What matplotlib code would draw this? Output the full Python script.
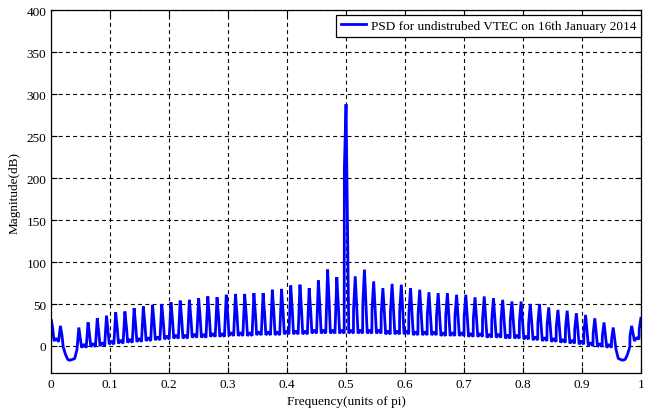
import numpy as np
import matplotlib
matplotlib.use("Agg")
import matplotlib.pyplot as plt

plt.rcParams['font.family'] = ['Liberation Serif', 'DejaVu Serif']

# PSD comb: one spike per bin k/64 (k = 0..64)
n_bins = 64
peak_db = [32, 24, -17, 22, 28, 33, 36, 40, 41, 45,
           47, 49, 50, 52, 54, 55, 57, 59, 58, 61,
           62, 62, 63, 63, 67, 68, 72, 73, 69, 78,
           91, 82, 288, 83, 91, 77, 69, 74, 73, 69,
           67, 64, 63, 63, 61, 61, 58, 59, 57, 55,
           53, 53, 50, 50, 46, 43, 42, 39, 37, 33,
           28, 22, -17, 24, 33]
shoulder_db = [20, 12, np.nan, 8, 12, 15, 17, 20, 21, 23,
               25, 26, 27, 29, 30, 31, 32, 33, 33, 35,
               35, 35, 36, 36, 38, 39, 40, 41, 39, 43,
               49, 45, 212, 45, 49, 43, 39, 41, 41, 39,
               38, 37, 36, 36, 35, 35, 33, 33, 32, 31,
               30, 29, 27, 27, 25, 23, 21, 20, 17, 15,
               12, 8, np.nan, 12, 20]

# floor between neighbouring spikes (64 gaps)
trough_after = [6, -1, -16, -2, -1, 0, 2, 3, 4, 5,
                6, 7, 8, 9, 9, 10, 10, 11, 11, 12,
                12, 12, 13, 13, 13, 14, 14, 14, 15, 15,
                15, 15, 15, 15, 15, 15, 14, 14, 14, 13,
                13, 13, 12, 12, 12, 11, 11, 10, 10, 9,
                9, 8, 7, 6, 5, 4, 3, 2, 0, -1,
                -2, -4, -16, 6]
hump = [9, -10, -15, 2, 3, 4, 6, 7, 8, 9,
        10, 11, 12, 13, 13, 14, 14, 15, 15, 16,
        16, 16, 17, 17, 17, 18, 18, 18, 19, 19,
        19, 19, 19, 19, 19, 19, 18, 18, 18, 17,
        17, 17, 16, 16, 16, 15, 15, 14, 14, 13,
        13, 12, 11, 10, 9, 8, 7, 6, 4, 3,
        2, -15, -10, 10]
trough_before = [5, -16, -4, -2, -1, 0, 2, 3, 4, 5,
                 6, 7, 8, 9, 9, 10, 10, 11, 11, 12,
                 12, 12, 13, 13, 13, 14, 14, 14, 15, 15,
                 15, 15, 15, 15, 15, 15, 14, 14, 14, 13,
                 13, 13, 12, 12, 12, 11, 11, 10, 10, 9,
                 9, 8, 7, 6, 5, 4, 3, 2, 0, -1,
                 -2, -16, -1, 8]
start_db = 14

legend_text = 'PSD for undistrubed VTEC on 16th January 2014'

# build the trace
bins = np.arange(n_bins + 1) / n_bins
step = 1.0 / n_bins
fx, fy = [bins[0] - 0.2 * step], [start_db]
for k in range(n_bins + 1):
    xk = bins[k]
    side = 1 if k < n_bins // 2 else -1
    if np.isnan(shoulder_db[k]):
        fx.append(xk); fy.append(peak_db[k])
    elif side > 0:
        fx += [xk, xk + 0.0028]
        fy += [peak_db[k], shoulder_db[k]]
    else:
        fx += [xk - 0.0028, xk]
        fy += [shoulder_db[k], peak_db[k]]
    if k < n_bins:
        fx += [xk + 0.3 * step, xk + 0.55 * step, xk + 0.8 * step]
        fy += [trough_after[k], hump[k], trough_before[k]]

fig = plt.figure(figsize=(6.48, 4.14), dpi=100)
ax = fig.add_axes([0.079, 0.097, 0.910, 0.876])

ax.plot(fx, fy, color='#0000ff', linewidth=2.0, label=legend_text,
        solid_joinstyle='bevel')

ax.set_xlim(0, 1)
ax.set_ylim(-32, 400)
ax.set_xticks(np.arange(0, 1.01, 0.1))
ax.set_xticklabels(['0', '0.1', '0.2', '0.3', '0.4', '0.5', '0.6', '0.7', '0.8', '0.9', '1'])
ax.set_yticks(np.arange(0, 401, 50))
ax.tick_params(direction='in', top=True, right=True, length=4, labelsize=9.5)
ax.grid(True, color='black', linestyle=(0, (3.5, 3)), linewidth=0.8)

for s in ax.spines.values():
    s.set_linewidth(0.9)

ax.set_xlabel('Frequency(units of pi)', fontsize=9.5, labelpad=4)
ax.set_ylabel('Magnitude(dB)', fontsize=9.5, labelpad=4)

leg = ax.legend(loc='upper right', bbox_to_anchor=(1.0, 0.986), borderaxespad=0,
                fancybox=False, edgecolor='black', framealpha=1, fontsize=9.5,
                handlelength=1.9, handletextpad=0.4, borderpad=0.35)
leg.get_frame().set_linewidth(0.9)

fig.savefig('out.png', dpi=100)
